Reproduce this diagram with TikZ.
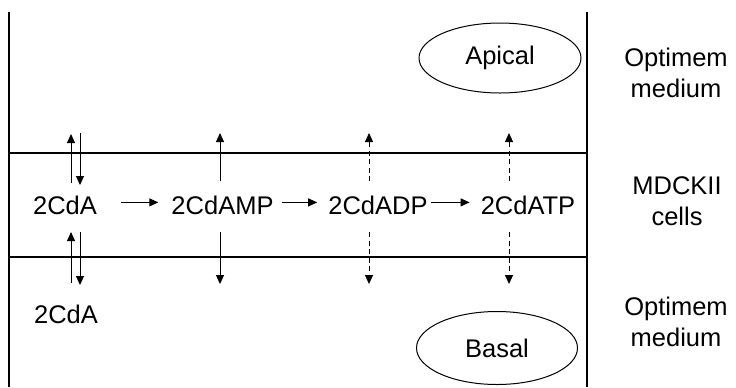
\documentclass[tikz,border=0pt]{standalone}
\usepackage{fontspec}
\setmainfont{Liberation Sans}
\usetikzlibrary{arrows.meta,shapes.geometric}

\tikzset{
  wall/.style={line width=1.2bp},
  lbl/.style={font=\fontsize{25.5bp}{31bp}\selectfont, inner sep=0pt},
  side/.style={lbl, align=center},
  compart/.style={ellipse, draw, line width=1bp, inner sep=0pt, font=\fontsize{25.5bp}{31bp}\selectfont},
  flow/.style={line width=1bp, -{Triangle[length=9bp,width=8bp]}},
  dflow/.style={flow, dash pattern=on 5bp off 3.5bp},
}

\begin{document}
\begin{tikzpicture}[x=1bp, y=-1bp]
  \useasboundingbox (0,0) rectangle (736,387);

  % outer walls and the cell layer
  \draw[wall] (9,12) -- (9,387);
  \draw[wall] (587,12) -- (587,387);
  \draw[wall] (9,153) -- (587,153);
  \draw[wall] (9,257) -- (587,257);

  % compartments
  \node[compart, minimum width=162bp, minimum height=70bp] (apical) at (500,58) {Apical};
  \node[compart, minimum width=161bp, minimum height=73bp] (basal) at (497,348) {Basal};

  % metabolites inside the cells
  \node[lbl, anchor=base] (cda) at (65,214) {2CdA};
  \node[lbl, anchor=base] (amp) at (222.5,214) {2CdAMP};
  \node[lbl, anchor=base] (adp) at (378,214) {2CdADP};
  \node[lbl, anchor=base] (atp) at (528,214) {2CdATP};
  \node[lbl, anchor=base] (cdab) at (66,323) {2CdA};

  % side labels (base anchor sits on the last line)
  \node[side, anchor=base] (topmed) at (676,97) {Optimem\\medium};
  \node[side, anchor=base] (cells) at (677,225) {MDCKII\\cells};
  \node[side, anchor=base] (botmed) at (676,346) {Optimem\\medium};

  % phosphorylation steps
  \draw[flow] ([yshift=2.5bp,xshift=24bp]cda.east) -- ([yshift=2.5bp,xshift=-13bp]amp.west);
  \draw[flow] ([yshift=2.5bp,xshift=8bp]amp.east) -- ([yshift=2.5bp,xshift=-11bp]adp.west);
  \draw[flow] ([yshift=2.5bp,xshift=3bp]adp.east) -- ([yshift=2.5bp,xshift=-11bp]atp.west);

  % transport of 2CdA across the apical and basal membranes
  \coordinate (c1a) at (71,183);  \coordinate (c1b) at (71,134);
  \coordinate (c2a) at (80,133);  \coordinate (c2b) at (80,185);
  \coordinate (c3a) at (71,283);  \coordinate (c3b) at (71,232);
  \coordinate (c4a) at (80,232);  \coordinate (c4b) at (80,285);
  \draw[flow] (c1a) -- (c1b);
  \draw[flow] (c2a) -- (c2b);
  \draw[flow] (c3a) -- (c3b);
  \draw[flow] (c4a) -- (c4b);

  % efflux of the nucleotides
  \coordinate (m1a) at (220,181); \coordinate (m1b) at (220,133);
  \coordinate (m2a) at (220,232); \coordinate (m2b) at (220,284);
  \draw[flow] (m1a) -- (m1b);
  \draw[flow] (m2a) -- (m2b);

  \coordinate (d1a) at (369,181); \coordinate (d1b) at (369,133);
  \coordinate (d2a) at (369,232); \coordinate (d2b) at (369,284);
  \draw[dflow] (d1a) -- (d1b);
  \draw[dflow] (d2a) -- (d2b);

  \coordinate (t1a) at (509,181); \coordinate (t1b) at (509,133);
  \coordinate (t2a) at (509,232); \coordinate (t2b) at (509,284);
  \draw[dflow] (t1a) -- (t1b);
  \draw[dflow] (t2a) -- (t2b);
\end{tikzpicture}
\end{document}
